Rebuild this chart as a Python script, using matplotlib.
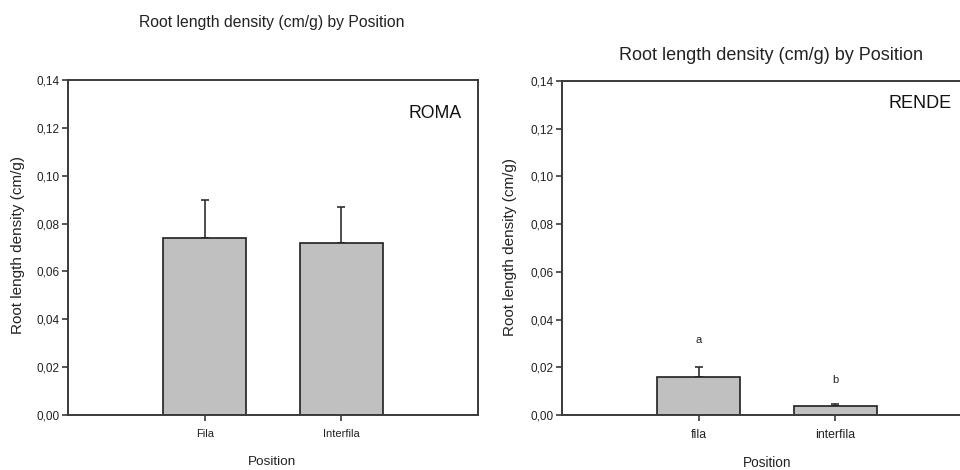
import matplotlib
matplotlib.use("Agg")
import matplotlib.pyplot as plt
import numpy as np

plt.rcParams['font.family'] = ['Liberation Sans', 'DejaVu Sans']

# Data
roma_categories = ["Fila", "Interfila"]
roma_values = [0.0741, 0.0719]
roma_errors = [0.0156, 0.0150]

rende_categories = ["fila", "interfila"]
rende_values = [0.0158, 0.0038]
rende_errors = [0.0042, 0.0009]
rende_letters = ["a", "b"]
rende_letter_y = [0.0314, 0.0146]

yticks = [0.00, 0.02, 0.04, 0.06, 0.08, 0.10, 0.12, 0.14]
yticklabels = ["0,00", "0,02", "0,04", "0,06", "0,08", "0,10", "0,12", "0,14"]

W, H = 960, 470
fig = plt.figure(figsize=(W / 100, H / 100), dpi=100)

spine_c = "#3a3a3a"
bar_c = "#c0c0c0"


def px_ax(x0, x1, ytop, ybot):
    return [x0 / W, 1 - ybot / H, (x1 - x0) / W, (ybot - ytop) / H]


def style(ax, cats, vals, errs, tick_fs, ylab_x, xlab_y, xlab_fs, ylab_fs, show_right=True):
    x = np.arange(1, len(cats) + 1)
    ax.bar(x, vals, width=0.61, color=bar_c, edgecolor="#202020", linewidth=1.2, zorder=2)
    ax.errorbar(x, vals, yerr=[np.zeros(len(errs)), errs], fmt="none",
                ecolor="#303030", elinewidth=1.2, capsize=3.2, capthick=1.2, zorder=1)
    ax.set_xlim(0, 3)
    ax.set_ylim(0, 0.14)
    ax.set_xticks(x)
    ax.set_xticklabels(cats, fontsize=tick_fs)
    ax.set_yticks(yticks)
    ax.set_yticklabels(yticklabels, fontsize=8.5)
    for s in ax.spines.values():
        s.set_color(spine_c)
        s.set_linewidth(1.4)
    ax.spines["right"].set_visible(show_right)
    ax.tick_params(axis="both", direction="out", length=4, width=1.2, color=spine_c,
                   colors="#222222")
    ax.tick_params(axis="x", pad=6)
    ax.tick_params(axis="y", pad=2)


# Left panel (ROMA)
ax1 = fig.add_axes(px_ax(68, 478, 80, 415))
style(ax1, roma_categories, roma_values, roma_errors, 8, 18, 462, 9.7, 11)
fig.text(272 / W, 1 - 22 / H, "Root length density (cm/g) by Position", ha="center",
         va="center", fontsize=11.3, color="#222222")
fig.text(18 / W, 1 - 245 / H, "Root length density (cm/g)", rotation=90, ha="center",
         va="center", fontsize=11, color="#222222")
fig.text(272 / W, 1 - 462 / H, "Position", ha="center", va="center", fontsize=9.7,
         color="#222222")
ax1.text(0.96, 0.9, "ROMA", transform=ax1.transAxes, ha="right", va="center",
         fontsize=12.7, color="#111111")

# Right panel (RENDE)
ax2 = fig.add_axes(px_ax(562, 972, 81, 415))
style(ax2, rende_categories, rende_values, rende_errors, 8.8, 510, 463, 9.8, 11, show_right=False)
for xi, (lab, ly) in enumerate(zip(rende_letters, rende_letter_y), start=1):
    ax2.text(xi, ly, lab, ha="center", va="center", fontsize=8, color="#222222")
fig.text(771 / W, 1 - 56 / H, "Root length density (cm/g) by Position", ha="center",
         va="center", fontsize=13, color="#222222")
fig.text(510 / W, 1 - 247 / H, "Root length density (cm/g)", rotation=90, ha="center",
         va="center", fontsize=11, color="#222222")
fig.text(767 / W, 1 - 463 / H, "Position", ha="center", va="center", fontsize=9.8,
         color="#222222")
ax2.text(952 / W, 1 - 103 / H, "RENDE", transform=fig.transFigure, ha="right", va="center",
         fontsize=13, color="#111111")

fig.savefig("out.png", dpi=100, facecolor="white")
